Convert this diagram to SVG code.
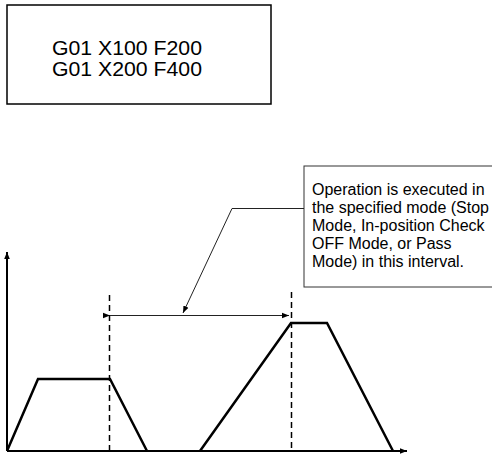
<svg xmlns="http://www.w3.org/2000/svg" width="492" height="454" viewBox="0 0 492 454">
<style>
text{font-family:"Liberation Sans",Arial,sans-serif;fill:#000}
.code{font-size:19.5px}
.note{font-size:16px}
.axis{stroke:#000;stroke-width:2;fill:none}
.curve{stroke:#000;stroke-width:2.5;fill:none;stroke-linejoin:miter}
.dash{stroke:#000;stroke-width:1.5;stroke-dasharray:6,4;fill:none}
.thin{stroke:#222;stroke-width:1;fill:none}
</style>
<defs>
<marker id="ah" viewBox="0 0 10 10" refX="10" refY="5" markerWidth="7" markerHeight="7" markerUnits="userSpaceOnUse" orient="auto">
<path d="M0,1 L10,5 L0,9 z" fill="#000"/>
</marker>
<marker id="axh" viewBox="0 0 10 10" refX="10" refY="5" markerWidth="7" markerHeight="7" markerUnits="userSpaceOnUse" orient="auto">
<path d="M0,1 L10,5 L0,9 z" fill="#000"/>
</marker>
</defs>
<g id="program-box">
<rect x="7" y="5" width="264" height="99" fill="#fff" stroke="#000" stroke-width="1.5"/>
<text class="code" x="52" y="55" textLength="150" lengthAdjust="spacingAndGlyphs">G01 X100 F200</text>
<text class="code" x="52" y="76" textLength="150" lengthAdjust="spacingAndGlyphs">G01 X200 F400</text>
</g>
<g id="note-box">
<rect x="304" y="166" width="200" height="121" fill="#fff" stroke="#333" stroke-width="1"/>
<text class="note" x="312" y="195">Operation is executed in</text>
<text class="note" x="312" y="213">the specified mode (Stop</text>
<text class="note" x="312" y="231">Mode, In-position Check</text>
<text class="note" x="312" y="249">OFF Mode, or Pass</text>
<text class="note" x="312" y="267">Mode) in this interval.</text>
</g>
<g id="axes">
<line class="axis" x1="7" y1="451" x2="7" y2="252" marker-end="url(#axh)"/>
<line class="axis" x1="7" y1="451" x2="407" y2="451" marker-end="url(#axh)"/>
</g>
<g id="profiles">
<polyline class="curve" points="7,451 38,379 110,379 147,451"/>
<polyline class="curve" points="200,451 291,323 327,323 393,451"/>
</g>
<g id="connectors">
<line class="dash" x1="109.5" y1="295" x2="109.5" y2="451"/>
<line class="dash" x1="291.5" y1="292" x2="291.5" y2="451"/>
<line class="thin" x1="110" y1="315.5" x2="289" y2="315.5" marker-start="url(#ah)" marker-end="url(#ah)"/>
<polyline class="thin" points="304,208.5 232,208.5 183,313" marker-end="url(#ah)"/>
</g>
</svg>
